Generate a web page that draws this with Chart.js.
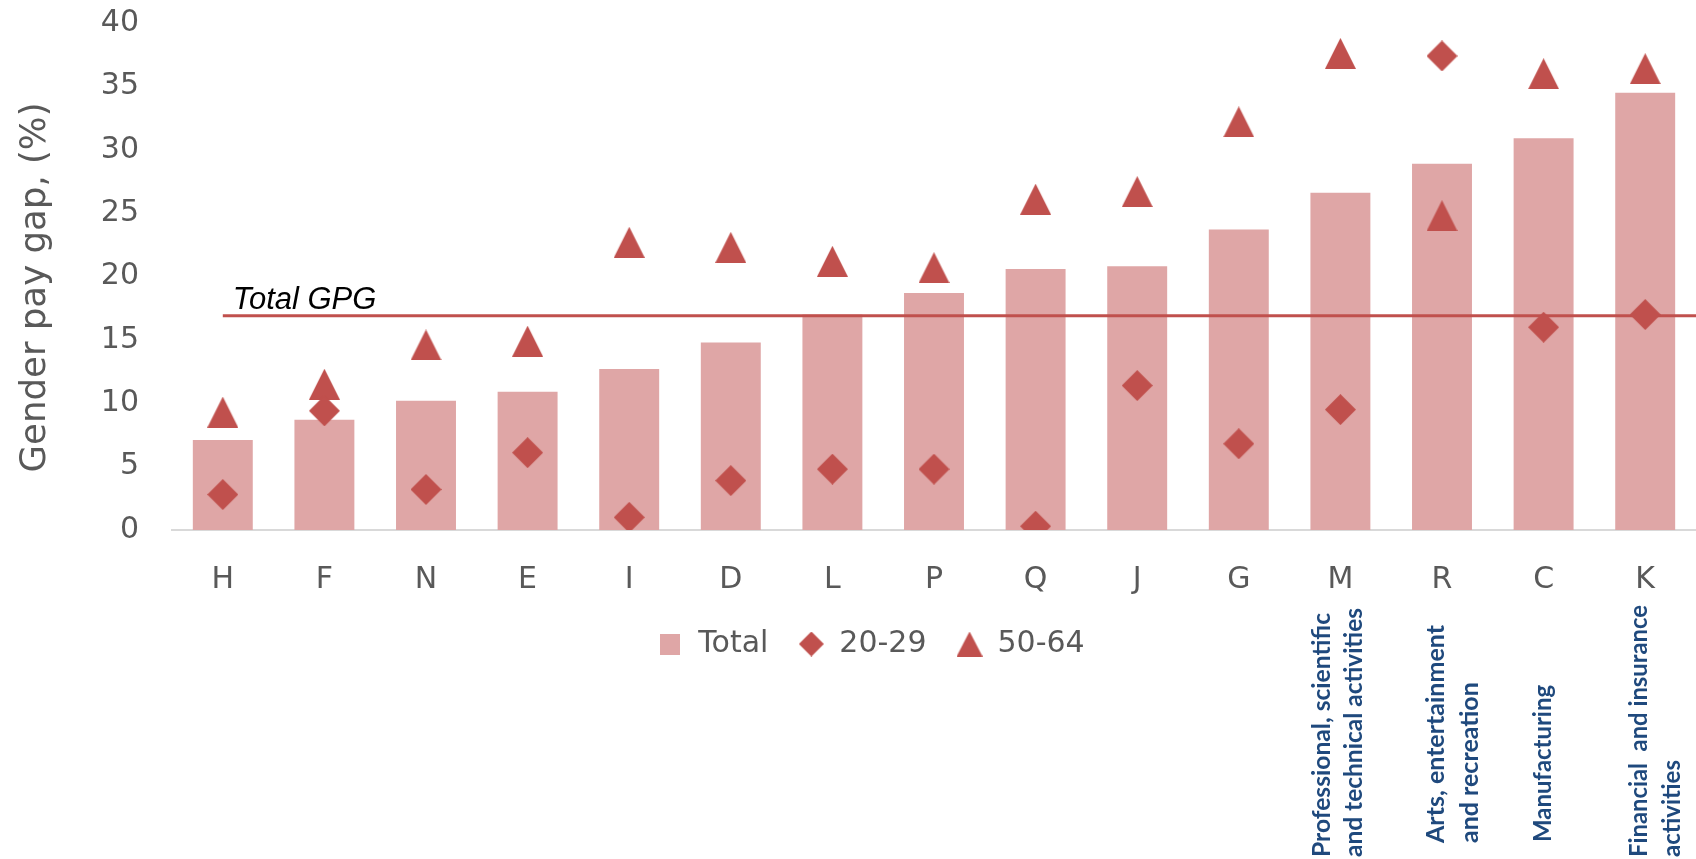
<!DOCTYPE html>
<html>
<head>
<meta charset="utf-8">
<script src="https://cdn.jsdelivr.net/npm/chart.js@4/dist/chart.umd.min.js"></script>
<style>
  html, body { margin: 0; padding: 0; background: #fff; }
  #wrap { width: 1696px; height: 859px; position: relative; }
</style>
</head>
<body>
<div id="wrap"><canvas id="chart" width="1696" height="859"></canvas></div>
<script>
// NACE sectors, ordered by overall gender pay gap
const categories = ['H', 'F', 'N', 'E', 'I', 'D', 'L', 'P', 'Q', 'J', 'G', 'M', 'R', 'C', 'K'];
// Gender pay gap (%) per sector
const totalValues = [7.1, 8.7, 10.2, 10.9, 12.7, 14.8, 17.0, 18.7, 20.6, 20.8, 23.7, 26.6, 28.9, 30.9, 34.5];
const age20to29 = [2.8, 9.4, 3.2, 6.1, 1.0, 3.9, 4.8, 4.8, 0.3, 11.4, 6.8, 9.5, 37.4, 16.0, 17.0];
const age50to64 = [9.3, 11.5, 14.6, 14.9, 22.7, 22.3, 21.2, 20.7, 26.1, 26.7, 32.2, 37.6, 24.8, 36.0, 36.4];
// Economy-wide gap, shown as a reference line
const totalGpg = 16.9;
const yTicks = [0, 5, 10, 15, 20, 25, 30, 35, 40];
const seriesNames = ['Total', '20-29', '50-64'];
const axisTitle = 'Gender pay gap, (%)';
const gpgLabel = 'Total GPG';
// Sector names written under selected letters
const sectorNames = {
  M: ['Professional, scientific', 'and technical activities'],
  R: ['Arts, entertainment', 'and recreation'],
  C: ['Manufacturing'],
  K: ['Financial  and insurance', 'activities']
};

const RED = '#C0504D';
const PINK = '#DFA6A6';
const GREY = '#595959';
const NAVY = '#1F497D';

function marker(shape, w, h, color) {
  const c = document.createElement('canvas');
  c.width = w; c.height = h;
  const g = c.getContext('2d');
  g.fillStyle = color;
  g.beginPath();
  if (shape === 'triangle') {
    g.moveTo(w / 2, 0); g.lineTo(w, h); g.lineTo(0, h);
  } else if (shape === 'diamond') {
    g.moveTo(w / 2, 0); g.lineTo(w, h / 2); g.lineTo(w / 2, h); g.lineTo(0, h / 2);
  } else {
    g.rect(0, 0, w, h);
  }
  g.closePath();
  g.fill();
  return c;
}

const diamondMark = marker('diamond', 31, 31, RED);
const triangleMark = marker('triangle', 31, 31, RED);
const legendMarks = [marker('rect', 20, 21, PINK), marker('diamond', 25, 25, RED), marker('triangle', 26, 25, RED)];

// Reference line for the overall gap plus its caption, drawn just above the bars
const gpgLinePlugin = {
  id: 'gpgLine',
  afterDatasetDraw(chart, args) {
    if (args.index !== 0) return;
    const { ctx, chartArea, scales } = chart;
    const y = scales.y.getPixelForValue(totalGpg);
    const x0 = scales.x.getPixelForValue(0);
    ctx.save();
    ctx.strokeStyle = RED;
    ctx.lineWidth = 3;
    ctx.beginPath();
    ctx.moveTo(x0, y);
    ctx.lineTo(chartArea.right, y);
    ctx.stroke();
    ctx.fillStyle = '#000';
    ctx.font = 'italic 31px "Liberation Sans", sans-serif';
    ctx.textAlign = 'left';
    ctx.textBaseline = 'alphabetic';
    ctx.fillText(gpgLabel, x0 + 10, y - 7, 146);
    ctx.restore();
  }
};

// Vertical axis title and the rotated sector names
const textPlugin = {
  id: 'extraText',
  afterDraw(chart) {
    const { ctx, chartArea, scales } = chart;
    ctx.save();
    ctx.fillStyle = GREY;
    ctx.font = '36px "DejaVu Sans", sans-serif';
    ctx.textAlign = 'center';
    ctx.textBaseline = 'middle';
    ctx.translate(36, (chartArea.top + chartArea.bottom) / 2 + 11);
    ctx.rotate(-Math.PI / 2);
    ctx.fillText(axisTitle, 0, 0, 370);
    ctx.restore();

    const layout = {
      M: { bottom: 857, base: [-10, 22], len: [244, 249] },
      R: { bottom: 843, base: [2, 36], len: [223, 161] },
      C: { bottom: 842, base: [7], len: [157] },
      K: { bottom: 857, base: [2, 35], len: [252, 97] }
    };
    ctx.save();
    ctx.fillStyle = NAVY;
    ctx.font = 'bold 25px Lato, "Open Sans", sans-serif';
    ctx.textAlign = 'left';
    ctx.textBaseline = 'alphabetic';
    Object.keys(sectorNames).forEach(key => {
      const cx = scales.x.getPixelForValue(categories.indexOf(key));
      const spec = layout[key];
      sectorNames[key].forEach((line, i) => {
        ctx.save();
        ctx.translate(cx + spec.base[i], spec.bottom);
        ctx.rotate(-Math.PI / 2);
        ctx.fillText(line, 0, 0, spec.len[i]);
        ctx.restore();
      });
    });
    ctx.restore();
  }
};

Chart.defaults.color = GREY;
Chart.defaults.font.family = '"DejaVu Sans", sans-serif';

new Chart(document.getElementById('chart'), {
  data: {
    labels: categories,
    datasets: [
      {
        type: 'bar',
        label: seriesNames[0],
        data: totalValues,
        backgroundColor: PINK,
        borderWidth: 0,
        barPercentage: 0.59,
        categoryPercentage: 1,
        order: 3
      },
      {
        type: 'line',
        label: seriesNames[1],
        data: age20to29,
        showLine: false,
        pointStyle: diamondMark,
        pointRadius: 15,
        pointHoverRadius: 15,
        order: 1
      },
      {
        type: 'line',
        label: seriesNames[2],
        data: age50to64,
        showLine: false,
        pointStyle: triangleMark,
        pointRadius: 15,
        pointHoverRadius: 15,
        order: 2
      }
    ]
  },
  options: {
    responsive: false,
    animation: false,
    layout: { autoPadding: false, padding: { left: 46, right: 0, top: 23, bottom: 190 } },
    scales: {
      x: {
        grid: { display: false, drawTicks: false },
        border: { display: true, color: '#D9D9D9', width: 2 },
        ticks: { font: { size: 30 }, padding: 32, color: GREY },
        afterFit(scale) {
          scale.height = 69;
          scale.paddingLeft = 0;
          scale.paddingRight = 0;
        }
      },
      y: {
        min: 0,
        max: 40,
        afterBuildTicks(scale) { scale.ticks = yTicks.map(v => ({ value: v })); },
        grid: { display: false, drawTicks: false },
        border: { display: false },
        ticks: { font: { size: 30 }, padding: 33, color: GREY },
        afterFit(scale) {
          scale.width = 126;
          scale.paddingTop = 0;
          scale.paddingBottom = 0;
        }
      }
    },
    plugins: {
      tooltip: { enabled: false },
      legend: {
        position: 'bottom',
        labels: {
          usePointStyle: true,
          pointStyleWidth: 26,
          padding: 30,
          color: GREY,
          font: { size: 30 },
          generateLabels() {
            return seriesNames.map((name, i) => ({
              text: name,
              pointStyle: legendMarks[i],
              fillStyle: i === 0 ? PINK : RED,
              strokeStyle: 'transparent',
              fontColor: GREY,
              lineWidth: 0,
              hidden: false,
              datasetIndex: i
            }));
          }
        }
      }
    }
  },
  plugins: [gpgLinePlugin, textPlugin]
});
</script>
</body>
</html>
